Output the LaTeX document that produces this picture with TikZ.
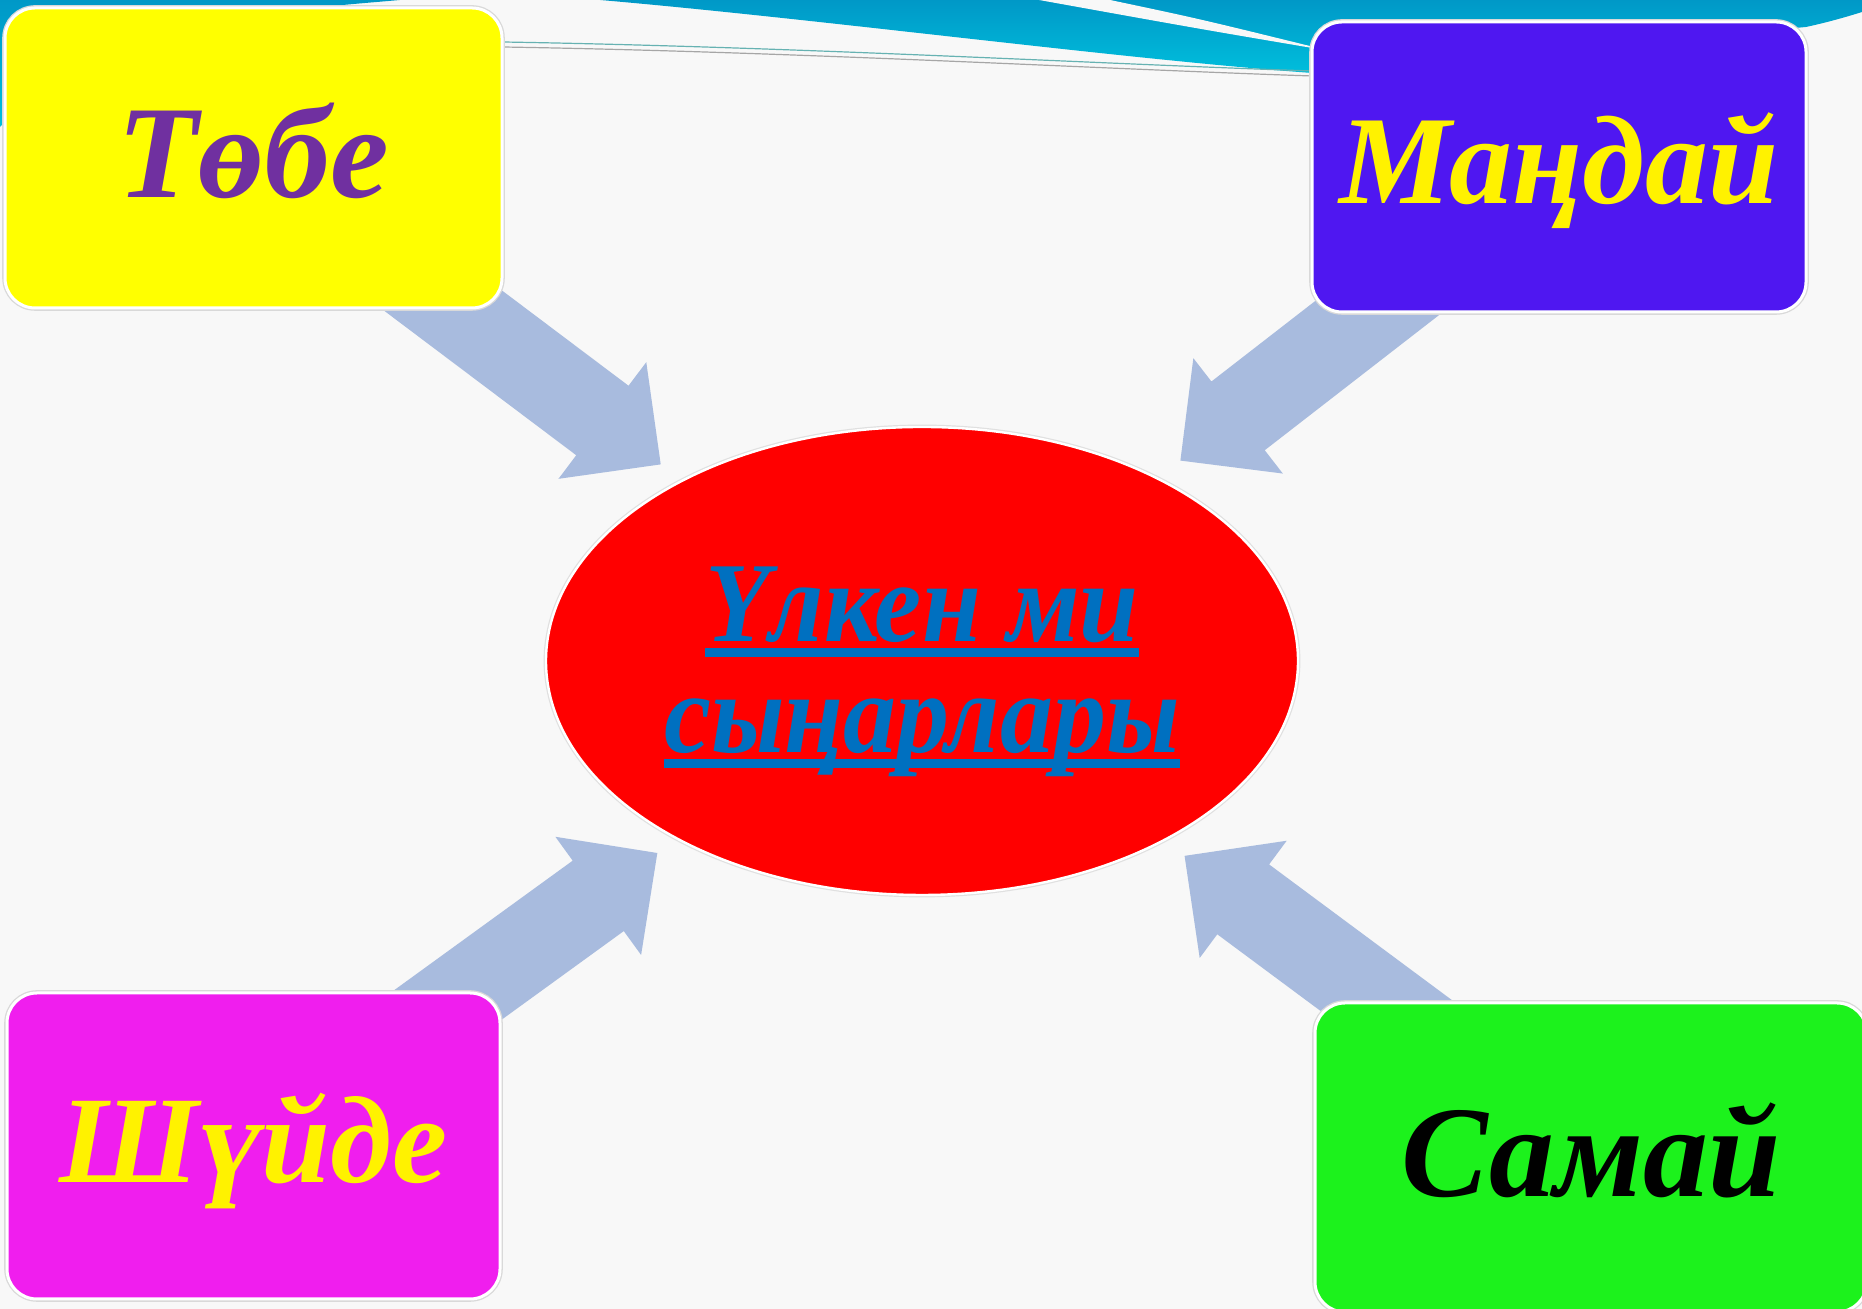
\documentclass[tikz,border=0pt]{standalone}
\usepackage{fontspec}
\setmainfont{Liberation Serif}
\newfontfamily\narrowserif[FakeStretch=0.93]{Liberation Serif}
\usepackage{xcolor}
\usetikzlibrary{shapes.geometric,calc}
\pgfdeclarelayer{bg}
\pgfsetlayers{bg,main}

\definecolor{bandtop}{RGB}{0,152,199}
\definecolor{bandbot}{RGB}{0,190,220}
\definecolor{paper}{RGB}{248,248,248}
\definecolor{arrowblue}{RGB}{168,187,222}
\definecolor{tobefill}{RGB}{255,255,0}
\definecolor{mandayfill}{RGB}{79,23,241}
\definecolor{shuidefill}{RGB}{240,30,238}
\definecolor{samaifill}{RGB}{28,242,28}
\definecolor{tobetext}{RGB}{112,48,160}
\definecolor{brainblue}{RGB}{0,112,192}

\newcommand\lobefont[1]{\fontsize{#1}{#1}\selectfont\bfseries\itshape}
\newcommand\ulbar[1]{\setbox0\hbox{#1}\rlap{\rule[-7.5pt]{\wd0}{4.5pt}}\box0}

\tikzset{
  lobe/.style={rectangle,rounded corners=15pt,inner sep=0pt,text depth=4pt,
    preaction={draw=black!15,line width=2.8pt},draw=white,line width=1.5pt},
  brain/.style={ellipse,inner sep=0pt,fill=red,text=brainblue,align=center,
    preaction={draw=black!12,line width=2.4pt},draw=white,line width=1.2pt},
  bigarrow/.style={fill=arrowblue}
}

\begin{document}
\begin{tikzpicture}[x=0.5pt,y=0.5pt]
  \useasboundingbox (0,0) rectangle (1862,1309);
  \begin{pgfonlayer}{bg}
    \fill[paper] (0,0) rectangle (1862,1309);
    \shade[top color=bandtop,bottom color=bandbot] (0,1309) -- (400,1309)
      .. controls (300,1300) and (100,1290) .. (0,1182) -- cycle;
    \shade[top color=bandtop,bottom color=bandbot] (600,1309) -- (1862,1309) -- (1862,1297)
      .. controls (1840,1290) and (1820,1285) .. (1806,1282) -- (1312,1236)
      .. controls (1120,1250) and (820,1290) .. (600,1309) -- cycle;
    \fill[paper] (1039,1309) -- (1110,1309) .. controls (1200,1290) .. (1330,1258)
      .. controls (1200,1280) .. (1039,1309);
    \draw[teal!60,line width=0.6pt] (502,1267) .. controls (800,1262) and (1100,1245) .. (1312,1238);
    \draw[gray!70,line width=0.6pt] (502,1262) .. controls (800,1257) and (1100,1240) .. (1312,1233);
  \end{pgfonlayer}

  \node[brain,minimum width=376pt,minimum height=234pt,
    font=\narrowserif\fontsize{57}{55.5}\selectfont\bfseries\itshape] (brain) at (922,648)
    {\rule{0pt}{48.5pt}\ulbar{Үлкен ми}\\\ulbar{сыңарлары}};

  \node[lobe,fill=tobefill,text=tobetext,minimum width=248.5pt,minimum height=150pt,
    text height=43.5pt,font=\lobefont{66}] (tobe) at (253.5,1151) {Төбе};
  \node[lobe,fill=mandayfill,text=yellow,minimum width=247pt,minimum height=145pt,
    text height=41pt,font=\lobefont{63}] (manday) at (1559,1142) {Маңдай};
  \node[lobe,fill=shuidefill,text=yellow,minimum width=246.5pt,minimum height=153pt,
    text height=41pt,font=\lobefont{62}] (shuide) at (253.5,163) {Шүйде};
  \node[lobe,fill=samaifill,text=black,minimum width=276pt,minimum height=154.5pt,
    text height=43pt,font=\lobefont{65}] (samai) at (1591,151.5) {Самай};

  \begin{pgfonlayer}{bg}
    \foreach \src in {tobe,manday,shuide,samai}{
      \coordinate (tip) at ($(brain.center)!163.5pt!(\src.center)$);
      \coordinate (hb) at ($(tip)!36.5pt!(\src.center)$);
      \fill[bigarrow] ($(\src.center)!21.75pt!90:(tip)$) -- ($(hb)!21.75pt!-90:(\src.center)$)
        -- ($(hb)!36.5pt!-90:(\src.center)$) -- (tip) -- ($(hb)!36.5pt!90:(\src.center)$)
        -- ($(hb)!21.75pt!90:(\src.center)$) -- ($(\src.center)!21.75pt!-90:(tip)$) -- cycle;
    }
  \end{pgfonlayer}
\end{tikzpicture}
\end{document}
